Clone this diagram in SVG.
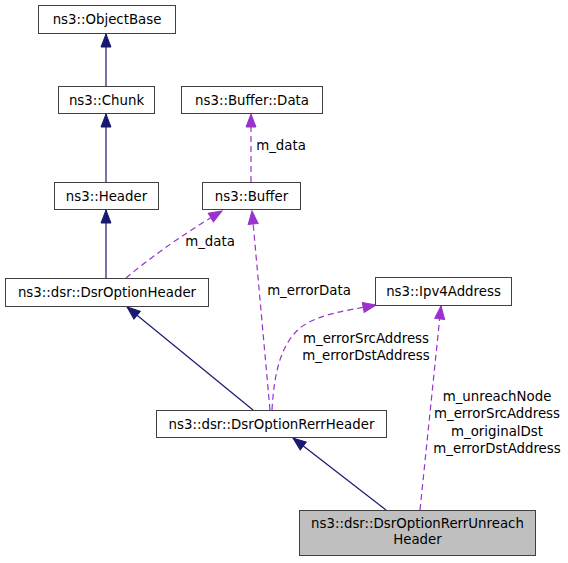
<svg xmlns="http://www.w3.org/2000/svg" width="568" height="563" viewBox="0 0 568 563">
<style>
  .box { fill: #ffffff; stroke: #404040; stroke-width: 1; }
  .boxg { fill: #bfbfbf; stroke: #404040; stroke-width: 1; }
  text { font-family: "DejaVu Sans", "Liberation Sans", sans-serif; font-size: 13.33px; fill: #000000; }
  .c { text-anchor: middle; }
  .inh { fill: none; stroke: #191970; stroke-width: 1.2; marker-end: url(#an); }
  .use { fill: none; stroke: #9a32cd; stroke-width: 1.2; stroke-dasharray: 6,4; marker-end: url(#ap); }
</style>
<defs>
  <marker id="an" markerUnits="userSpaceOnUse" markerWidth="16" markerHeight="12" viewBox="0 0 16 12" refX="14" refY="6" orient="auto">
    <path d="M1,1 L14,6 L1,11 Z" fill="#191970" stroke="#191970" stroke-width="1"/>
  </marker>
  <marker id="ap" markerUnits="userSpaceOnUse" markerWidth="16" markerHeight="12" viewBox="0 0 16 12" refX="14" refY="6" orient="auto">
    <path d="M1,1 L14,6 L1,11 Z" fill="#9a32cd" stroke="#9a32cd" stroke-width="1"/>
  </marker>
</defs>
<rect width="568" height="563" fill="#ffffff"/>
<g id="connectors">
  <path class="inh" d="M106,86 L106,34"/>
  <path class="inh" d="M106,182 L106,114"/>
  <path class="inh" d="M106,278 L106,210"/>
  <path class="inh" d="M253,410 L127,307"/>
  <path class="inh" d="M386,510 L293,438"/>
  <path class="use" d="M251,182 L251,114"/>
  <path class="use" d="M126,278 C150,258 180,236 222,211"/>
  <path class="use" d="M270,410 L252,211"/>
  <path class="use" d="M272,410 C274,375 280,345 300,328 C318,314 345,311 376,305"/>
  <path class="use" d="M420,510 L441,306"/>
  <text class="c" x="281" y="150">m_data</text>
  <text class="c" x="210" y="246">m_data</text>
  <text class="c" x="309" y="295">m_errorData</text>
  <text class="c" x="366" y="343">m_errorSrcAddress</text>
  <text class="c" x="366" y="360">m_errorDstAddress</text>
  <text class="c" x="497" y="401">m_unreachNode</text>
  <text class="c" x="497" y="418">m_errorSrcAddress</text>
  <text class="c" x="497" y="436">m_originalDst</text>
  <text class="c" x="497" y="453">m_errorDstAddress</text>
</g>
<g id="ObjectBase">
  <rect class="box" x="38.5" y="5.5" width="137" height="28"/>
  <text class="c" x="107" y="24">ns3::ObjectBase</text>
</g>
<g id="Chunk">
  <rect class="box" x="58.5" y="86.5" width="96" height="27"/>
  <text class="c" x="106.5" y="105">ns3::Chunk</text>
</g>
<g id="BufferData">
  <rect class="box" x="181.5" y="86.5" width="141" height="27"/>
  <text class="c" x="252" y="105">ns3::Buffer::Data</text>
</g>
<g id="Header">
  <rect class="box" x="54.5" y="182.5" width="104" height="27"/>
  <text class="c" x="106.5" y="201">ns3::Header</text>
</g>
<g id="Buffer">
  <rect class="box" x="202.5" y="182.5" width="98" height="27"/>
  <text class="c" x="251.5" y="201">ns3::Buffer</text>
</g>
<g id="DsrOptionHeader">
  <rect class="box" x="5.5" y="278.5" width="203" height="28"/>
  <text class="c" x="107" y="297">ns3::dsr::DsrOptionHeader</text>
</g>
<g id="Ipv4Address">
  <rect class="box" x="375.5" y="277.5" width="136" height="28"/>
  <text class="c" x="443.5" y="296">ns3::Ipv4Address</text>
</g>
<g id="DsrOptionRerrHeader">
  <rect class="box" x="156.5" y="410.5" width="230" height="27"/>
  <text class="c" x="271.5" y="429">ns3::dsr::DsrOptionRerrHeader</text>
</g>
<g id="DsrOptionRerrUnreachHeader">
  <rect class="boxg" x="299.5" y="510.5" width="236" height="45"/>
  <text class="c" x="417.5" y="528">ns3::dsr::DsrOptionRerrUnreach</text>
  <text class="c" x="417.5" y="544">Header</text>
</g>
</svg>
